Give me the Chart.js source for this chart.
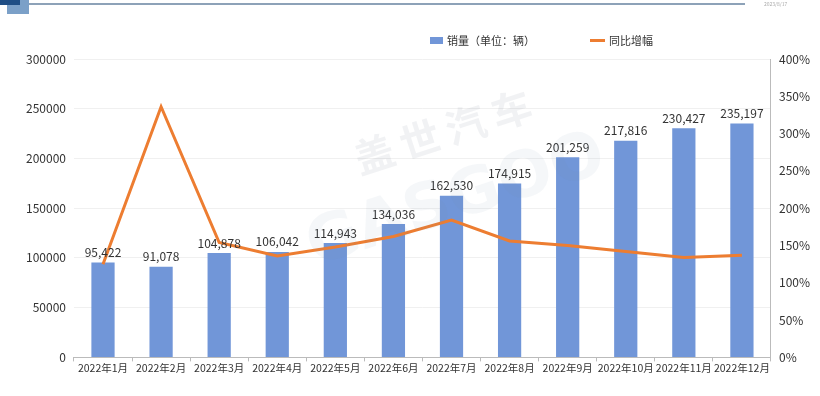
<!DOCTYPE html>
<html>
<head>
<meta charset="utf-8">
<script src="https://cdn.jsdelivr.net/npm/chart.js@4.4.1/dist/chart.umd.min.js"></script>
<style>
  body { margin: 0; background: #fff; font-family: "Noto Sans CJK SC", "Noto Sans", sans-serif; }
  #wrap { position: relative; width: 820px; height: 396px; overflow: hidden; }
  #deco1 { position: absolute; left: 7px; top: 0; width: 22px; height: 14px; background: #7ba0c8; }
  #deco2 { position: absolute; left: 0; top: 0; width: 20px; height: 5px; background: #1f4e85; }
  #topline { position: absolute; left: 29px; top: 3px; width: 716px; height: 2px; background: #8da2b8; }
  #stamp { position: absolute; left: 764px; top: 0px; font-size: 5px; color: #aaa; }
  .leg { position: absolute; top: 32px; font-size: 11px; color: #333; display: flex; align-items: center; }
  .box { width: 13px; height: 7px; background: #7196d8; margin-right: 4px; }
  .ln { width: 15px; height: 3px; background: #ed7d31; margin-right: 4px; }
  #wm { position: absolute; left: 350px; top: 100px; font-size: 40px; font-weight: bold; color: rgba(120,130,150,0.10);
        transform: rotate(-18deg); letter-spacing: 8px; pointer-events: none; }
  #wm2 { position: absolute; left: 300px; top: 160px; font-size: 64px; font-weight: bold; color: rgba(120,140,170,0.07);
         transform: rotate(-18deg); pointer-events: none; font-family: "DejaVu Sans", sans-serif; }
</style>
</head>
<body>
<div id="wrap">
  <div id="deco1"></div><div id="deco2"></div><div id="topline"></div>
  <div id="stamp">2023/8/17</div>
  <div class="leg" style="left:430px"><span class="box"></span>销量（单位：辆）</div>
  <div class="leg" style="left:590px"><span class="ln"></span>同比增幅</div>
  <canvas id="c" width="820" height="396"></canvas>
  <div id="wm">盖世汽车</div>
  <div id="wm2">GASGOO</div>
</div>
<script>
const months = ['2022年1月', '2022年2月', '2022年3月', '2022年4月', '2022年5月', '2022年6月',
  '2022年7月', '2022年8月', '2022年9月', '2022年10月', '2022年11月', '2022年12月'];
const sales = [95422, 91078, 104878, 106042, 114943, 134036, 162530, 174915, 201259, 217816, 230427, 235197];
const growth = [125, 336, 154, 136, 148, 162, 184, 156, 150, 142, 134, 137];

const font = '"Noto Sans CJK SC", "Noto Sans", sans-serif';

// labels above bars
const barLabels = {
  id: 'barLabels',
  afterDatasetsDraw(chart) {
    const ctx = chart.ctx;
    const meta = chart.getDatasetMeta(1);
    ctx.save();
    ctx.font = '12px ' + font;
    ctx.fillStyle = '#333';
    ctx.textAlign = 'center';
    ctx.textBaseline = 'bottom';
    meta.data.forEach((bar, i) => {
      ctx.fillText(sales[i].toLocaleString('en-US'), bar.x, bar.y - 4);
    });
    ctx.restore();
  }
};

new Chart(document.getElementById('c'), {
  data: {
    labels: months,
    datasets: [{
      type: 'line',
      label: '同比增幅',
      data: growth,
      yAxisID: 'y2',
      borderColor: '#ed7d31',
      borderWidth: 3,
      pointRadius: 0,
      tension: 0,
      order: 0
    }, {
      type: 'bar',
      label: '销量（单位：辆）',
      data: sales,
      yAxisID: 'y',
      backgroundColor: '#7196d8',
      categoryPercentage: 1,
      barPercentage: 0.4,
      order: 1
    }]
  },
  plugins: [barLabels],
  options: {
    responsive: false,
    animation: false,
    layout: { padding: { left: 18, right: 2, top: 59, bottom: 22 } },
    plugins: { legend: { display: false }, tooltip: { enabled: false } },
    scales: {
      x: {
        offset: true,
        grid: { offset: true, drawOnChartArea: false, drawTicks: true, tickLength: 4, color: '#bbb' },
        border: { color: '#bbb' },
        ticks: { font: { size: 10.5, family: font }, color: '#333', maxRotation: 0, autoSkip: false, padding: 0 }
      },
      y: {
        position: 'left',
        min: 0, max: 300000,
        ticks: { stepSize: 50000, callback: v => String(v), font: { size: 12, family: font }, color: '#333', padding: 8 },
        grid: { color: '#f0f0f0', drawTicks: false },
        border: { display: false }
      },
      y2: {
        position: 'right',
        min: 0, max: 400,
        ticks: { stepSize: 50, callback: v => v + '%', font: { size: 12, family: font }, color: '#333', padding: 8 },
        grid: { drawOnChartArea: false, drawTicks: false },
        border: { color: '#bbb' }
      }
    }
  }
});
</script>
</body>
</html>
